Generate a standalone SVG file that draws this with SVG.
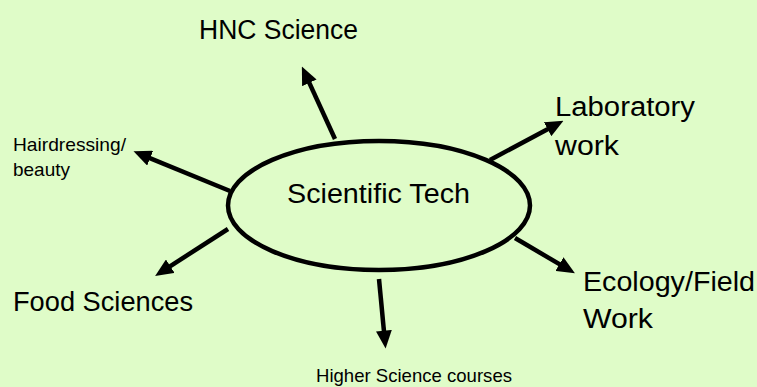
<svg xmlns="http://www.w3.org/2000/svg" width="757" height="387" viewBox="0 0 757 387">
<style>
  .lbl { font-family: "Liberation Sans", Arial, sans-serif; fill: #000; }
  .big { font-size: 27px; }
  .small { font-size: 19px; }
  .conn { stroke: #000; stroke-width: 4.5; fill: none; marker-end: url(#ah); }
</style>
<defs>
  <marker id="ah" markerUnits="userSpaceOnUse" markerWidth="18" markerHeight="16" viewBox="0 0 17 15" refX="6" refY="7.5" orient="auto">
    <path d="M0,0 L17,7.5 L0,15 z" fill="#000"/>
  </marker>
</defs>
<rect x="0" y="0" width="757" height="387" fill="#DFFCC8"/>
<g id="connectors">
  <line class="conn" x1="335" y1="139" x2="306.7" y2="77.1"/>
  <line class="conn" x1="230" y1="191" x2="144.3" y2="155.8"/>
  <line class="conn" x1="490" y1="160" x2="553.2" y2="126.2"/>
  <line class="conn" x1="515" y1="238" x2="564.9" y2="267.4"/>
  <line class="conn" x1="228" y1="229" x2="164.9" y2="269.6"/>
  <line class="conn" x1="379" y1="279" x2="384.5" y2="337"/>
</g>
<g id="center">
  <ellipse cx="379" cy="205.5" rx="151" ry="64.5" fill="none" stroke="#000" stroke-width="4.5"/>
  <text class="lbl big" x="287" y="203" textLength="183" lengthAdjust="spacingAndGlyphs">Scientific Tech</text>
</g>
<g id="hnc">
  <text class="lbl big" x="199" y="38.5" textLength="159" lengthAdjust="spacingAndGlyphs">HNC Science</text>
</g>
<g id="lab">
  <text class="lbl big" x="555" y="116" textLength="140" lengthAdjust="spacingAndGlyphs">Laboratory</text>
  <text class="lbl big" x="555" y="155" textLength="64" lengthAdjust="spacingAndGlyphs">work</text>
</g>
<g id="eco">
  <text class="lbl big" x="583" y="291" textLength="172" lengthAdjust="spacingAndGlyphs">Ecology/Field</text>
  <text class="lbl big" x="583" y="328" textLength="70" lengthAdjust="spacingAndGlyphs">Work</text>
</g>
<g id="food">
  <text class="lbl big" x="13" y="311" textLength="180" lengthAdjust="spacingAndGlyphs">Food Sciences</text>
</g>
<g id="hair">
  <text class="lbl small" x="13" y="151" textLength="113" lengthAdjust="spacingAndGlyphs">Hairdressing/</text>
  <text class="lbl small" x="13" y="175.5" textLength="57" lengthAdjust="spacingAndGlyphs">beauty</text>
</g>
<g id="higher">
  <text class="lbl small" x="316" y="382" textLength="196" lengthAdjust="spacingAndGlyphs">Higher Science courses</text>
</g>
</svg>
